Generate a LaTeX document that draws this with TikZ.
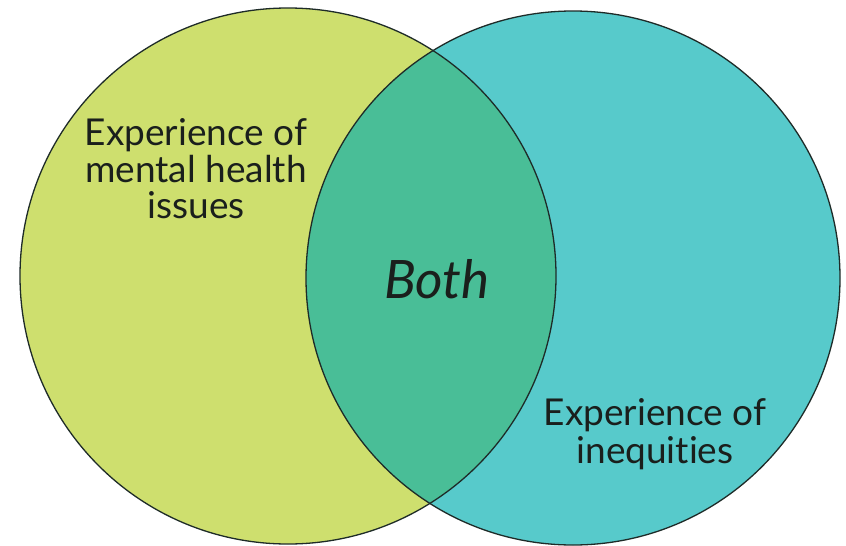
\documentclass[tikz,border=0pt]{standalone}
\usepackage{fontspec}
\setmainfont{Lato}[Ligatures=NoCommon]
\definecolor{lime}{HTML}{CEDF6E}
\definecolor{teal2}{HTML}{57CACB}
\definecolor{overlap}{HTML}{49BE97}
\definecolor{edge}{HTML}{1E2B28}
\definecolor{txt}{HTML}{1A1F1C}
\tikzset{
  setcircle/.style={draw=edge, line width=1.3pt},
  label/.style={font=\fontsize{37}{40}\selectfont, text=txt, align=center, inner sep=0pt},
}
\begin{document}
\begin{tikzpicture}[x=1pt,y=-1pt]
\useasboundingbox (0,0) rectangle (846,546);
\fill[white] (0,0) rectangle (846,546);
\fill[lime] (288,276) circle (268);
\fill[teal2] (573,278) circle (267);
\begin{scope}
  \clip (288,276) circle (268);
  \fill[overlap] (573,278) circle (267);
\end{scope}
\draw[setcircle] (288,276) circle (268);
\draw[setcircle] (573,278) circle (267);
\node[label, anchor=base] (left1) at (196,145) {Experience of};
\node[label, anchor=base] (left2) at (196,182) {mental health};
\node[label, anchor=base] (left3) at (196,218) {issues};
\node[label, anchor=base] (right1) at (655,425) {Experience of};
\node[label, anchor=base] (right2) at (655,463) {inequities};
\node[label, anchor=base, font=\fontsize{53}{56}\selectfont\itshape] (both) at (437,298) {Both};
\end{tikzpicture}
\end{document}
